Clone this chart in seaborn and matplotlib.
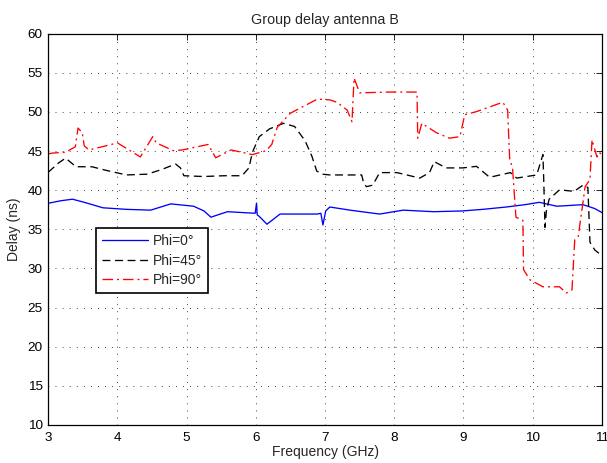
import matplotlib
matplotlib.use("Agg")
import matplotlib.pyplot as plt
import seaborn as sns
import pandas as pd

# ---------------- data ----------------
f0 = [3.0, 3.01, 3.18, 3.35, 3.52, 3.79, 4.13, 4.48, 4.77, 5.10, 5.25, 5.35, 5.59,
      5.99, 6.01, 6.02, 6.05, 6.16, 6.35, 6.89, 6.94, 6.97, 7.01, 7.07, 7.36, 7.79,
      8.13, 8.57, 8.99, 9.28, 9.62, 9.89, 10.10, 10.35, 10.73, 10.9, 11.0]
d0 = [38.3, 38.35, 38.65, 38.85, 38.45, 37.75, 37.55, 37.45, 38.25, 37.95, 37.35, 36.55, 37.25,
      37.05, 38.35, 36.85, 36.65, 35.65, 36.95, 36.95, 37.05, 35.55, 37.35, 37.85, 37.45, 36.95,
      37.45, 37.25, 37.35, 37.55, 37.85, 38.15, 38.45, 37.95, 38.15, 37.65, 37.15]

f45 = [3.0, 3.15, 3.25, 3.40, 3.63, 3.83, 4.13, 4.43, 4.64, 4.84, 4.91, 4.96,
       5.24, 5.54, 5.80, 5.90, 5.95, 6.05, 6.20, 6.40, 6.56, 6.71, 6.81, 6.88, 6.96,
       7.07, 7.53, 7.56, 7.60, 7.69, 7.79, 8.04, 8.37, 8.51, 8.58, 8.75, 8.99, 9.19,
       9.38, 9.48, 9.68, 9.77, 10.06, 10.15, 10.16, 10.18, 10.20, 10.24, 10.39, 10.60,
       10.73, 10.80, 10.83, 10.90, 11.0]
d45 = [42.3, 43.5, 44.1, 43.0, 43.0, 42.55, 41.95, 42.05, 42.65, 43.35, 42.85, 41.85,
       41.75, 41.85, 41.85, 42.85, 44.85, 46.85, 47.85, 48.55, 48.15, 46.35, 44.35, 42.45, 42.05,
       41.95, 41.95, 40.85, 40.45, 40.65, 42.25, 42.25, 41.55, 42.25, 43.65, 42.85, 42.85, 43.05,
       41.65, 41.85, 42.25, 41.55, 41.95, 44.55, 41.85, 35.25, 37.35, 38.85, 40.05, 39.85,
       40.65, 40.35, 33.35, 32.35, 31.65]

f90 = [3.0, 3.06, 3.25, 3.39, 3.43, 3.49, 3.52, 3.59, 3.73, 4.00, 4.33, 4.51, 4.56,
       4.81, 4.94, 5.31, 5.42, 5.64, 5.95, 6.15, 6.23, 6.31, 6.50, 6.89, 7.07, 7.17,
       7.32, 7.39, 7.42, 7.50, 7.94, 8.33, 8.34, 8.40, 8.61, 8.80, 8.95, 9.02, 9.19,
       9.57, 9.64, 9.67, 9.71, 9.76, 9.86, 9.87, 9.96, 10.15, 10.39, 10.49, 10.57,
       10.61, 10.66, 10.76, 10.83, 10.86, 10.93, 10.97, 11.0]
d90 = [44.65, 44.75, 44.85, 45.55, 47.95, 47.35, 45.65, 45.15, 45.45, 46.05, 44.25, 46.85, 46.05,
       45.05, 45.15, 45.85, 44.15, 45.15, 44.55, 45.05, 45.85, 48.05, 49.85, 51.65, 51.55, 51.25,
       50.25, 48.75, 54.35, 52.45, 52.55, 52.55, 46.65, 48.55, 47.35, 46.65, 46.85, 49.65, 50.05,
       51.25, 50.25, 43.85, 42.95, 36.55, 36.15, 29.85, 28.55, 27.65, 27.65, 26.85, 27.25,
       33.65, 34.05, 40.45, 41.35, 46.45, 44.25, 44.85, 44.35]

labels = ["Phi=0°", "Phi=45°", "Phi=90°"]
colors = ["#0000ff", "#000000", "#ff0000"]
title = "Group delay antenna B"
xlabel = "Frequency (GHz)"
ylabel = "Delay (ns)"

# ---------------- plot ----------------
sns.set_theme(style="white")
plt.rcParams["font.family"] = ["Liberation Sans", "DejaVu Sans"]

fig = plt.figure(figsize=(6.07, 4.63), dpi=100)
ax = fig.add_axes([0.0796, 0.0825, 0.9117, 0.8445])

styles = ["-", (0, (6, 3.5)), (0, (8, 3, 1.5, 3))]
for fx, dy, lab, c, ls in zip([f0, f45, f90], [d0, d45, d90], labels, colors, styles):
    df = pd.DataFrame({"f": fx, "d": dy})
    sns.lineplot(data=df, x="f", y="d", ax=ax, estimator=None, sort=False,
                 color=c, linewidth=0.95, linestyle=ls, label=lab)

ax.set_xlim(3, 11)
ax.set_ylim(10, 60)
ax.set_xticks(range(3, 12))
ax.set_yticks(range(10, 61, 5))
ax.grid(True, color="black", linestyle=(0, (1, 7.5)), linewidth=0.6)
for s in ax.spines.values():
    s.set_color("black")
    s.set_linewidth(0.9)
ax.tick_params(direction="in", length=4, width=0.6, colors="black",
               top=True, right=True, labelsize=9.7)
ax.tick_params(axis="x", pad=5)
ax.tick_params(axis="y", pad=4)
ax.set_title(title, fontsize=10.3, pad=7)
ax.set_xlabel(xlabel, fontsize=10, labelpad=1)
ax.set_ylabel(ylabel, fontsize=10, labelpad=5)

leg = ax.legend(loc="upper left", bbox_to_anchor=(0.086, 0.503), fontsize=10,
                frameon=True, fancybox=False, framealpha=1, borderpad=0.44,
                labelspacing=0.4, handlelength=3.3, handletextpad=0.36,
                borderaxespad=0)
leg.get_frame().set_edgecolor("black")
leg.get_frame().set_linewidth(1.2)

fig.savefig("out.png", dpi=100)
